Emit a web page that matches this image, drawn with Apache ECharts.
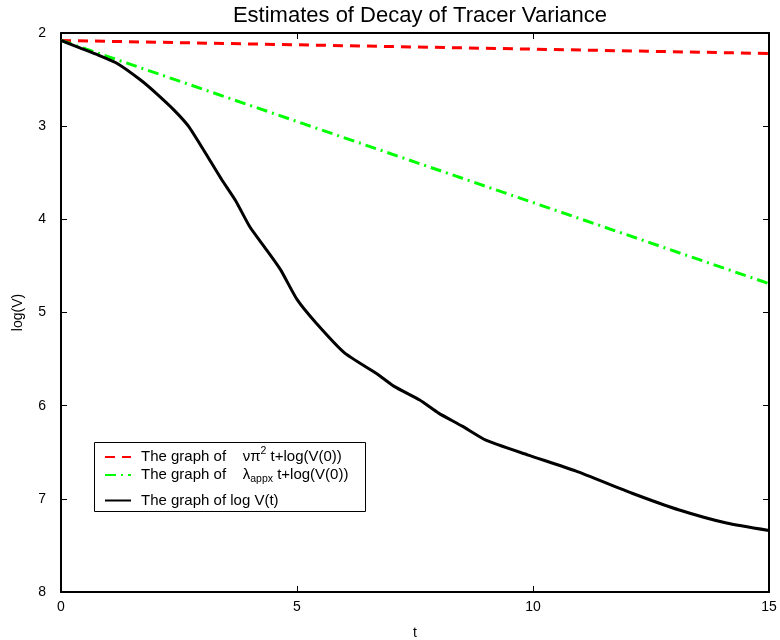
<!DOCTYPE html>
<html>
<head>
<meta charset="utf-8">
<script src="https://cdn.jsdelivr.net/npm/echarts@6/dist/echarts.min.js"></script>
<style>
  html, body { margin: 0; padding: 0; background: #fff; }
  #chart { width: 780px; height: 640px; }
</style>
</head>
<body>
<div id="chart"></div>
<script>
// data
const tValues = [0, 0.4, 0.8, 1.2, 1.7, 2.0, 2.4, 2.7, 3.05, 3.4, 3.7, 4.0, 4.3, 4.65, 5.0, 5.4, 6.0, 6.7, 7.05, 7.6, 8.0, 8.5, 9.0, 9.9, 10.9, 12.1, 13.1, 14.1, 15]
const logV = [2.08, 2.16, 2.24, 2.33, 2.51, 2.64, 2.83, 3.0, 3.28, 3.57, 3.8, 4.08, 4.29, 4.54, 4.86, 5.11, 5.43, 5.66, 5.79, 5.94, 6.08, 6.22, 6.37, 6.53, 6.7, 6.94, 7.12, 7.26, 7.34]
const lineT = [0, 15]
const nuPiLine = [2.08, 2.22]
const lambdaLine = [2.08, 4.69]
const xTicks = [0, 5, 10, 15]
const yTicks = [2, 3, 4, 5, 6, 7, 8]

const seriesNames = ['nuPi', 'lambda', 'logV']
const legendText = {
  nuPi: 'The graph of    {g|νπ}{sup|2}{g| t+log(V(0))}',
  lambda: 'The graph of    {g|λ}{sub|appx}{g| t+log(V(0))}',
  logV: 'The graph of log V(t)'
}

const pairs = (xs, ys) => xs.map((x, i) => [x, ys[i]])

const font = 'Liberation Sans, Arial, sans-serif'
const grid = { left: 61, right: 11, top: 33, bottom: 48, outerBoundsMode: 'none' }

const richStyle = {
  g: { fontSize: 15, fontFamily: font, color: '#000' },
  sup: { fontSize: 10.5, fontFamily: font, color: '#000', verticalAlign: 'bottom', padding: [0, 0, 7, 0] },
  sub: { fontSize: 10.5, fontFamily: font, color: '#000', verticalAlign: 'bottom', lineHeight: 10 }
}

const makeLegend = (name, top, lineHeight) => ({
  data: [name],
  orient: 'vertical',
  left: 104,
  top: top,
  padding: 0,
  itemWidth: 26,
  itemHeight: 10,
  selectedMode: false,
  itemStyle: { opacity: 0 },
  formatter: (n) => legendText[n],
  textStyle: {
    fontSize: 15,
    fontFamily: font,
    color: '#000',
    lineHeight: lineHeight,
    padding: [0, 0, 0, 5],
    rich: richStyle
  }
})

const chart = echarts.init(document.getElementById('chart'))

const axisCommon = {
  type: 'value',
  splitLine: { show: false },
  axisLine: { show: true, onZero: false, lineStyle: { color: '#000', width: 2 } },
  axisTick: { show: true, inside: true, length: 6, lineStyle: { color: '#000', width: 1 } }
}

const option = {
  animation: false,
  backgroundColor: '#fff',
  title: {
    text: 'Estimates of Decay of Tracer Variance',
    left: 415,
    top: 0,
    textAlign: 'center',
    textStyle: { fontSize: 22, fontWeight: 'normal', fontFamily: font, color: '#000' }
  },
  grid: grid,
  legend: [
    makeLegend('nuPi', 446, 14),
    makeLegend('lambda', 465, 20),
    makeLegend('logV', 493, 14)
  ],
  graphic: [{
    type: 'rect',
    left: 94,
    top: 442,
    shape: { width: 271, height: 69 },
    style: { fill: 'rgba(0,0,0,0)', stroke: '#000', lineWidth: 1 },
    z: 10
  }],
  xAxis: [
    Object.assign({}, axisCommon, {
      position: 'bottom',
      min: xTicks[0],
      max: xTicks[xTicks.length - 1],
      interval: 5,
      name: 't',
      nameLocation: 'middle',
      nameGap: 34,
      nameTextStyle: { fontSize: 14, fontFamily: font, color: '#000' },
      axisLabel: { fontSize: 14, fontFamily: font, color: '#000', margin: 8 }
    }),
    Object.assign({}, axisCommon, {
      position: 'top',
      min: xTicks[0],
      max: xTicks[xTicks.length - 1],
      interval: 5,
      axisLabel: { show: false }
    })
  ],
  yAxis: [
    Object.assign({}, axisCommon, {
      position: 'left',
      inverse: true,
      min: yTicks[0],
      max: yTicks[yTicks.length - 1],
      interval: 1,
      name: 'log(V)',
      nameLocation: 'middle',
      nameGap: 36,
      nameRotate: 90,
      nameTextStyle: { fontSize: 14, fontFamily: font, color: '#000' },
      axisLabel: { fontSize: 14, fontFamily: font, color: '#000', margin: 15 }
    }),
    Object.assign({}, axisCommon, {
      position: 'right',
      inverse: true,
      min: yTicks[0],
      max: yTicks[yTicks.length - 1],
      interval: 1,
      axisLabel: { show: false }
    })
  ],
  series: [
    {
      name: seriesNames[0],
      type: 'line',
      xAxisIndex: 0,
      yAxisIndex: 0,
      showSymbol: false,
      symbol: 'none',
      data: pairs(lineT, nuPiLine),
      lineStyle: { color: '#ff0000', width: 3, type: [10, 7] },
      itemStyle: { color: '#ff0000' }
    },
    {
      name: seriesNames[1],
      type: 'line',
      xAxisIndex: 0,
      yAxisIndex: 0,
      showSymbol: false,
      symbol: 'none',
      data: pairs(lineT, lambdaLine),
      lineStyle: { color: '#00ff00', width: 3, type: [11, 5, 2, 5] },
      itemStyle: { color: '#00ff00' }
    },
    {
      name: seriesNames[2],
      type: 'line',
      xAxisIndex: 0,
      yAxisIndex: 0,
      showSymbol: false,
      symbol: 'none',
      smooth: 0.2,
      data: pairs(tValues, logV),
      lineStyle: { color: '#000', width: 3 },
      itemStyle: { color: '#000' }
    }
  ]
}

chart.setOption(option)
</script>
</body>
</html>
